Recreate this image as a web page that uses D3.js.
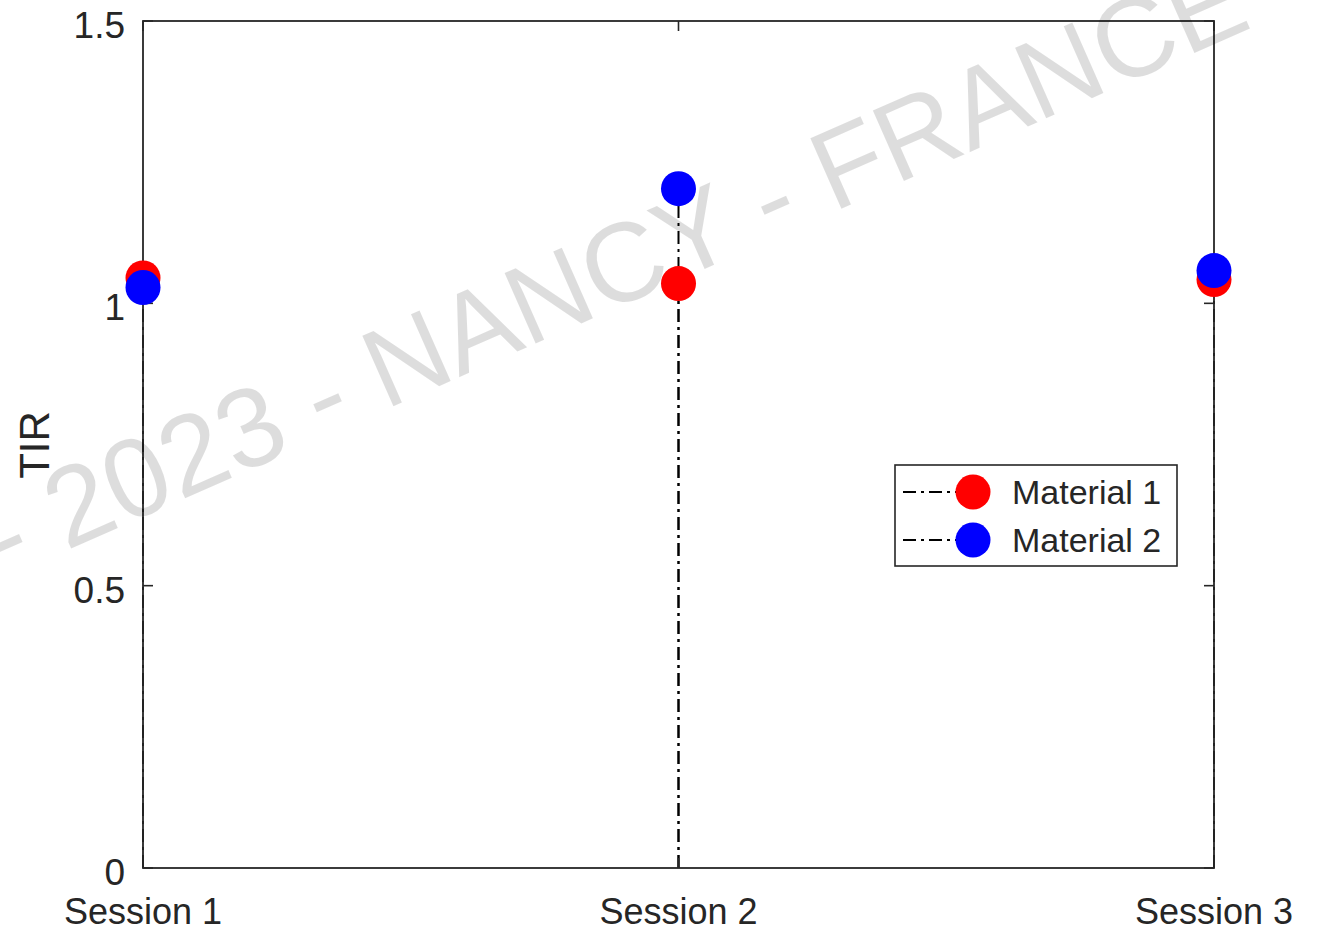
<!DOCTYPE html>
<html>
<head>
<meta charset="utf-8">
<script src="https://cdn.jsdelivr.net/npm/d3@7"></script>
<style>
  body { margin: 0; background: #fff; }
  text { font-family: "Liberation Sans", Arial, sans-serif; }
</style>
</head>
<body>
<svg width="1324" height="931"></svg>
<script>
var width = 1324;
var height = 931;

var sessions = ['Session 1', 'Session 2', 'Session 3'];
var material1 = [1.045, 1.035, 1.042];
var material2 = [1.028, 1.203, 1.058];
var seriesNames = ['Material 1', 'Material 2'];
var seriesColors = ['#ff0000', '#0000ff'];
var yTicks = [0, 0.5, 1, 1.5];

var margin = {left: 143, right: 110, top: 21, bottom: 63};
var axisColor = '#262626';

var svg = d3.select('svg');

var x = d3.scalePoint()
    .domain(sessions)
    .range([margin.left, width - margin.right]);

var y = d3.scaleLinear()
    .domain([0, 1.5])
    .range([height - margin.bottom, margin.top]);

var x0 = margin.left, x1 = width - margin.right;
var y0 = height - margin.bottom, y1 = margin.top;

// stems (dash-dot)
var series = [material1, material2];
var stems = svg.append('g').classed('stems', true);
series.forEach(function(vals) {
    stems.selectAll(null)
        .data(vals)
        .enter()
        .append('line')
        .attr('x1', (d, i) => x(sessions[i]))
        .attr('x2', (d, i) => x(sessions[i]))
        .attr('y1', y(0))
        .attr('y2', d => y(d))
        .attr('stroke', '#000')
        .attr('stroke-width', 2)
        .attr('stroke-dasharray', '13,5,3,5');
});

// axes box with inward ticks
var axes = svg.append('g').classed('axes', true);

axes.append('rect')
    .attr('x', x0)
    .attr('y', y1)
    .attr('width', x1 - x0)
    .attr('height', y0 - y1)
    .attr('fill', 'none')
    .attr('stroke', axisColor)
    .attr('stroke-width', 1.8);

var tickLen = 10;
yTicks.forEach(function(t) {
    axes.append('line')
        .attr('x1', x0).attr('x2', x0 + tickLen)
        .attr('y1', y(t)).attr('y2', y(t))
        .attr('stroke', axisColor).attr('stroke-width', 1.6);
    axes.append('line')
        .attr('x1', x1).attr('x2', x1 - tickLen)
        .attr('y1', y(t)).attr('y2', y(t))
        .attr('stroke', axisColor).attr('stroke-width', 1.6);
});
sessions.forEach(function(s) {
    axes.append('line')
        .attr('x1', x(s)).attr('x2', x(s))
        .attr('y1', y0).attr('y2', y0 - tickLen)
        .attr('stroke', axisColor).attr('stroke-width', 1.6);
    axes.append('line')
        .attr('x1', x(s)).attr('x2', x(s))
        .attr('y1', y1).attr('y2', y1 + tickLen)
        .attr('stroke', axisColor).attr('stroke-width', 1.6);
});

// markers
series.forEach(function(vals, k) {
    svg.append('g')
        .selectAll('circle')
        .data(vals)
        .enter()
        .append('circle')
        .attr('cx', (d, i) => x(sessions[i]))
        .attr('cy', d => y(d))
        .attr('r', 17.5)
        .attr('fill', seriesColors[k]);
});

// tick labels
axes.selectAll('.ylab')
    .data(yTicks)
    .enter()
    .append('text')
    .attr('x', x0 - 18)
    .attr('y', d => y(d) + 17)
    .attr('text-anchor', 'end')
    .attr('font-size', 37)
    .attr('fill', axisColor)
    .text(d => d);

axes.selectAll('.xlab')
    .data(sessions)
    .enter()
    .append('text')
    .attr('x', d => x(d))
    .attr('y', y0 + 56)
    .attr('text-anchor', 'middle')
    .attr('font-size', 36)
    .attr('fill', axisColor)
    .text(d => d);

svg.append('text')
    .attr('transform', 'translate(49, 445) rotate(-90)')
    .attr('text-anchor', 'middle')
    .attr('font-size', 42)
    .attr('fill', axisColor)
    .text('TIR');

// legend
var legend = svg.append('g').attr('transform', 'translate(895, 465)');
legend.append('rect')
    .attr('width', 282)
    .attr('height', 101)
    .attr('fill', '#fff')
    .attr('stroke', axisColor)
    .attr('stroke-width', 1.6);

seriesNames.forEach(function(name, k) {
    var cy = 27 + k * 48;
    legend.append('line')
        .attr('x1', 8).attr('x2', 78)
        .attr('y1', cy).attr('y2', cy)
        .attr('stroke', '#000')
        .attr('stroke-width', 2)
        .attr('stroke-dasharray', '13,5,3,5');
    legend.append('circle')
        .attr('cx', 78).attr('cy', cy)
        .attr('r', 17.5)
        .attr('fill', seriesColors[k]);
    legend.append('text')
        .attr('x', 117)
        .attr('y', cy + 12)
        .attr('font-size', 34)
        .attr('fill', axisColor)
        .text(name);
});

// watermark
var angle = -23.8;
var wm = svg.append('text')
    .attr('font-size', 112)
    .attr('fill', '#000')
    .attr('fill-opacity', 0.135)
    .text('- 2023 - NANCY - FRANCE');
var prefix = wm.node().getSubStringLength(0, 9);
var nx = 385, ny = 410;
wm.attr('transform', 'translate(' + nx + ',' + ny + ') rotate(' + angle + ')')
    .attr('x', -prefix)
    .attr('y', 0);
</script>
</body>
</html>
